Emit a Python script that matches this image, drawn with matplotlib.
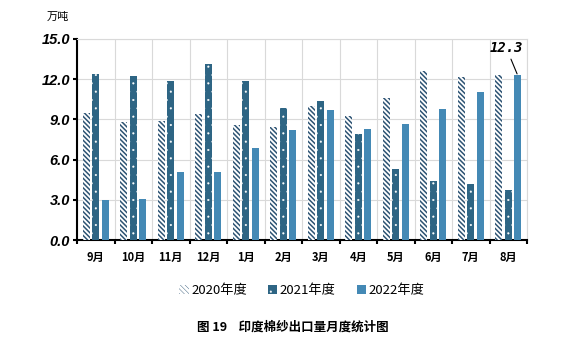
import matplotlib.pyplot as plt
import numpy as np

plt.rcParams['font.family'] = ['Noto Sans CJK SC', 'DejaVu Sans']

months = ['9月', '10月', '11月', '12月', '1月', '2月', '3月', '4月', '5月', '6月', '7月', '8月']
y2020 = [9.45, 8.78, 8.88, 9.40, 8.58, 8.43, 10.02, 9.23, 10.57, 12.61, 12.19, 12.31]
y2021 = [12.41, 12.26, 11.89, 13.13, 11.87, 9.83, 10.37, 7.89, 5.27, 4.40, 4.15, 3.73]
y2022 = [2.96, 3.06, 5.05, 5.05, 6.87, 8.21, 9.70, 8.26, 8.63, 9.78, 11.02, 12.30]
yticks = [0, 3, 6, 9, 12, 15]

fig = plt.figure(figsize=(5.85, 3.51), dpi=100)
ax = fig.add_axes([77/585, 1 - 240/351, 450/585, 201/351])

x = np.arange(len(months))
w = 0.19
plt.rcParams['hatch.linewidth'] = 1.1
ax.bar(x - 0.25, y2020, w, color='white', edgecolor='#2E5474', hatch='\\' * 7, linewidth=0, label='2020年度', zorder=3)
plt.rcParams['hatch.linewidth'] = 0.3
ax.bar(x, y2021, w, color='#2E6584', edgecolor='white', hatch='..', linewidth=0, label='2021年度', zorder=3)
ax.bar(x + 0.25, y2022, w, color='#4489B5', linewidth=0, label='2022年度', zorder=3)

ax.set_xlim(-0.5, len(months) - 0.5)
ax.set_ylim(0, 15)
ax.set_yticks(yticks)
ax.set_yticklabels([f'{v:.1f}' for v in yticks], family='Liberation Sans',
                   fontweight='bold', fontstyle='italic', fontsize=10.5)
ax.set_xticks(x)
ax.set_xticklabels(months, fontsize=8, fontweight='bold')
ax.set_xticks(np.arange(-0.5, len(months)), minor=True)
ax.tick_params(axis='x', which='major', length=0, pad=8)
ax.tick_params(axis='x', which='minor', length=3, width=1.5, direction='out')
ax.tick_params(axis='y', length=3, width=1.5, pad=2)

ax.grid(axis='y', color='#D9D9D9', linewidth=0.8, zorder=0)
ax.grid(axis='x', which='minor', color='#D9D9D9', linewidth=0.8, zorder=0)
for s in ['top', 'right']:
    ax.spines[s].set_color('#D9D9D9')
    ax.spines[s].set_linewidth(0.8)
for s in ['left', 'bottom']:
    ax.spines[s].set_linewidth(1.5)

ax.annotate('12.3', xy=(11.25, y2022[-1]), xytext=(10.95, 13.8),
            fontsize=10, fontweight='bold', fontstyle='italic', family='DejaVu Sans Mono',
            ha='center', va='bottom',
            arrowprops=dict(arrowstyle='-', color='black', lw=0.8, shrinkA=1, shrinkB=1))

fig.text(58/585, 1 - 17/351, '万吨', fontsize=8, ha='center', va='center', fontstyle='italic')

ax.legend(loc='upper center', bbox_to_anchor=(0.5, -0.16), ncol=3, frameon=False,
          fontsize=9.5, handlelength=0.7, handleheight=0.7, handletextpad=0.2, columnspacing=1.6)

fig.text(0.5, 1 - 327/351, '图 19    印度棉纱出口量月度统计图', fontsize=9, fontweight='bold',
         ha='center', va='center')

fig.savefig('out.png', dpi=100)
